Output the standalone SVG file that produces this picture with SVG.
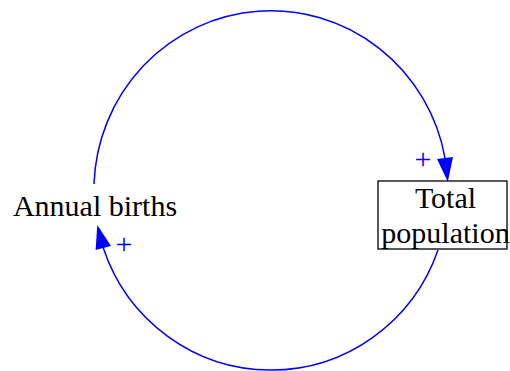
<svg xmlns="http://www.w3.org/2000/svg" width="510" height="371" viewBox="0 0 510 371">
<style>
  .lbl { font-family: "Liberation Serif", "Times New Roman", serif; font-size: 30px; fill: #000; }
  .pol { font-family: "Liberation Serif", "Times New Roman", serif; font-size: 30px; fill: #0000ff; }
  .link { fill: none; stroke: #0000ff; stroke-width: 1.5; }
  .head { fill: #0000ff; stroke: none; }
</style>
<rect width="510" height="371" fill="#fff"/>
<g id="connectors">
  <path class="link" d="M94,184 A177,179.5 0 0 1 445,158"/>
  <polygon class="head" points="447.8,181.7 453,157 437,159"/>
  <text class="pol" x="423" y="168.5" text-anchor="middle">+</text>
  <path class="link" d="M438,250 A177,179.5 0 0 1 103.3,248"/>
  <polygon class="head" points="97.3,225 111,246 95.6,250"/>
  <text class="pol" x="124" y="253.5" text-anchor="middle">+</text>
</g>
<g id="annual-births">
  <text class="lbl" x="95" y="216" text-anchor="middle">Annual births</text>
</g>
<g id="total-population">
  <rect x="378" y="181" width="129" height="68" fill="#fff" stroke="#000" stroke-width="1.3"/>
  <text class="lbl" x="445.5" y="208" text-anchor="middle">Total</text>
  <text class="lbl" x="445.5" y="243" text-anchor="middle">population</text>
</g>
</svg>
